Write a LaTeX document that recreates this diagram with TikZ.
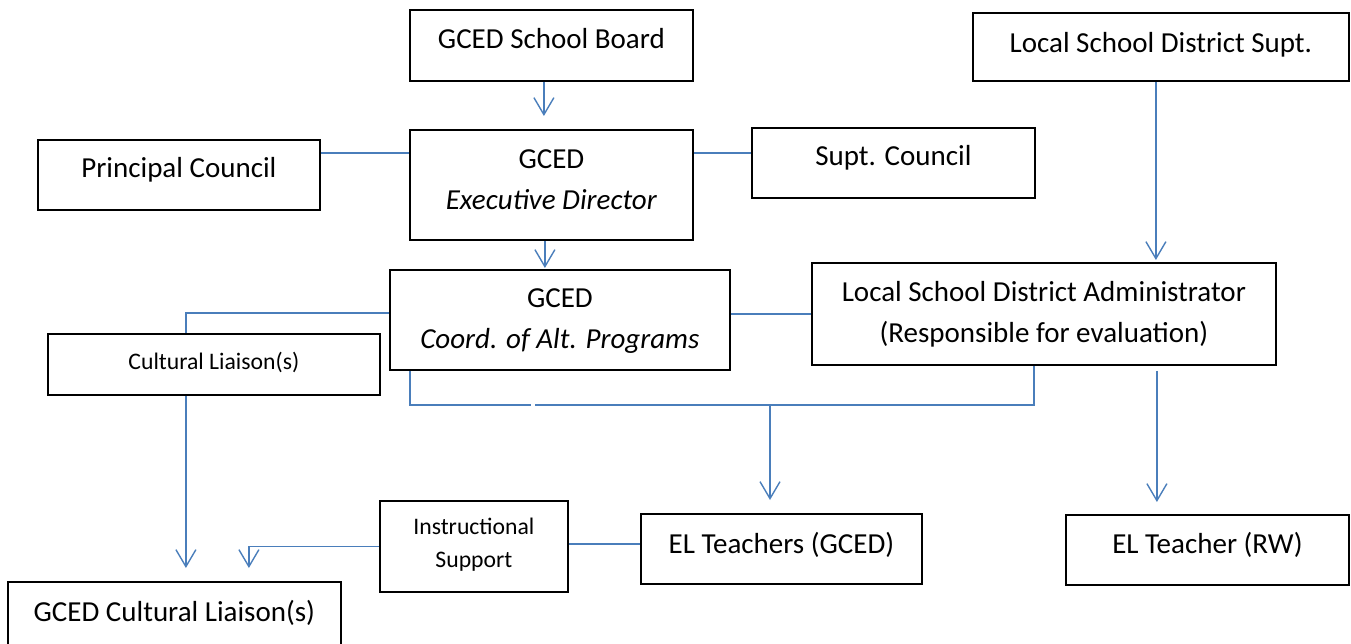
\documentclass[tikz,border=0pt]{standalone}
\usepackage{fontspec}
\setmainfont{Carlito}
\usetikzlibrary{arrows.meta}
\definecolor{linkblue}{RGB}{74,126,187}

\begin{document}
\begin{tikzpicture}[x=1pt, y=-1pt,
    box/.style={draw, line width=1.8pt, inner sep=0pt, align=center, anchor=north west,
        font=\fontsize{29}{41.3}\selectfont},
    smallbox/.style={box, font=\fontsize{23.7}{33}\selectfont},
    link/.style={draw=linkblue, line width=1.4pt},
    arr/.style={link, -{Straight Barb[length=17pt, width=20pt]}, shorten >=13pt}]
    \useasboundingbox (0,0) rectangle (1351,644);

    \node[box, minimum width=283pt, text height=39pt, text depth=32pt] (board) at (409,9) {GCED School Board};
    \node[box, minimum width=376pt, text height=40pt, text depth=28pt] (supt) at (972,12) {Local School District Supt.};
    \node[box, minimum width=282pt, text height=38pt, text depth=32pt] (principal) at (37,139) {Principal Council};
    \node[box, minimum width=283pt, text height=80pt, text depth=30pt] (exec) at (409,129) {GCED\\\textit{Executive Director}};
    \node[box, minimum width=283pt, text height=38pt, text depth=32pt] (suptc) at (751,127) {Supt. Council};
    \node[box, minimum width=340pt, text height=79pt, text depth=21pt] (coord) at (389,269) {GCED\\\textit{Coord. of Alt. Programs}};
    \node[box, minimum width=464pt, text height=79.7pt, text depth=22.3pt] (admin) at (811,262) {Local School District Administrator\\(Responsible for evaluation)};
    \node[smallbox, minimum width=332pt, text height=35.3pt, text depth=25.7pt] (liaison) at (47,333) {Cultural Liaison(s)};
    \node[smallbox, minimum width=188pt, text height=67pt, text depth=24pt] (instr) at (379,500) {Instructional\\Support};
    \node[box, minimum width=281pt, text height=39.7pt, text depth=30.3pt] (elgced) at (640,513) {EL Teachers (GCED)};
    \node[box, minimum width=283pt, text height=38.7pt, text depth=31.3pt] (elrw) at (1065,514) {EL Teacher (RW)};
    \node[box, minimum width=333pt, text height=40pt, text depth=30pt] (gcedliaison) at (7,581) {GCED Cultural Liaison(s)};

    \coordinate (busl) at (410,405);
    \coordinate (gapl) at (531,405);
    \coordinate (gapr) at (535,405);
    \coordinate (busm) at (770,405);
    \coordinate (busr) at (1034,405);

    \draw[arr] ([xshift=-7.5pt]board.south) -- ([xshift=-7.5pt]board.south |- exec.north);
    \draw[arr, shorten >=1pt] ([xshift=-6.5pt]exec.south) -- ([xshift=-6.5pt]exec.south |- coord.north);
    \draw[arr, shorten >=2pt] ([xshift=-5pt]supt.south) -- ([xshift=-5pt]supt.south |- admin.north);
    \draw[link] ([yshift=22pt]principal.east) -- ([yshift=22pt]principal.east -| exec.west);
    \draw[link] ([yshift=32pt]exec.east) -- ([yshift=32pt]exec.east -| suptc.west);
    \draw[link] (admin.west) -- (admin.west -| coord.east);
    \draw[link] ([yshift=7pt]coord.west) -| ([xshift=-28pt]liaison.north);
    \draw[arr] ([xshift=-28pt]liaison.south) -- ([xshift=-28pt]liaison.south |- gcedliaison.north);
    \draw[arr] (instr.west) -| ([xshift=74.5pt]gcedliaison.north);
    \draw[link] ([yshift=5pt]elgced.west) -- ([yshift=5pt]elgced.west -| instr.east);
    \draw[link] (coord.south -| busl) -- (busl) -- (gapl);
    \draw[link] (gapr) -- (busr) -- (busr |- admin.south);
    \draw[arr] (busm) -- (busm |- elgced.north);
    \draw[arr, shorten <=5pt, shorten >=12pt] ([xshift=113pt]admin.south) -- ([xshift=113pt]admin.south |- elrw.north);
\end{tikzpicture}
\end{document}
